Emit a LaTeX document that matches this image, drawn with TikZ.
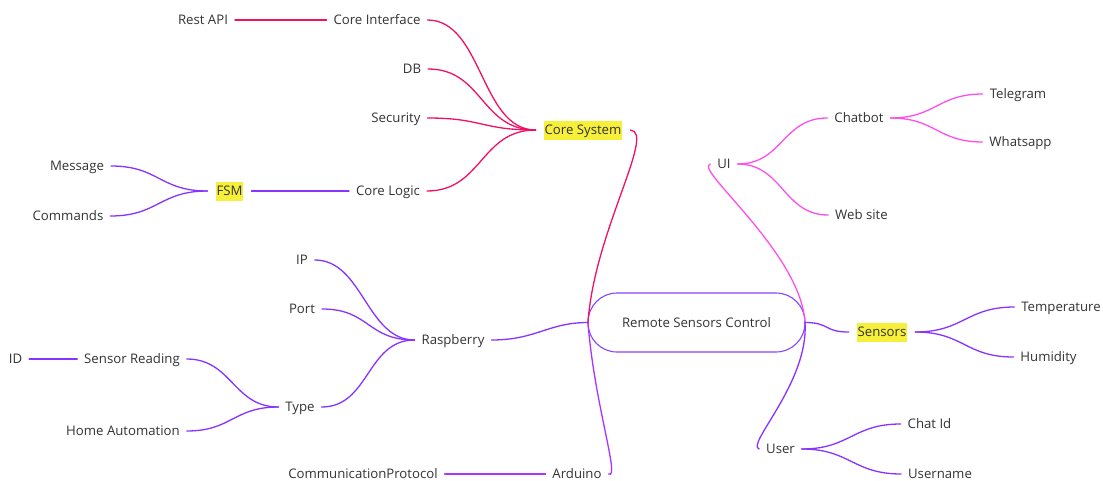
\documentclass[tikz,border=0pt]{standalone}
\usepackage{fontspec}
\setmainfont{Open Sans}
\definecolor{textgray}{HTML}{333333}
\definecolor{hlyellow}{HTML}{F7F03A}
\definecolor{corecol}{HTML}{EE1166}
\definecolor{uicol}{HTML}{FF4FEA}
\definecolor{purplecol}{HTML}{8833FF}
\definecolor{ardcol}{HTML}{AA33FF}
\definecolor{rootcol}{HTML}{8844FF}
\begin{document}
\begin{tikzpicture}[x=1pt,y=-1pt,
  lbl/.style={font=\fontsize{13.2}{16}\selectfont, text=textgray,
    inner xsep=1pt, inner ysep=3pt, text height=11pt, text depth=2pt,
    outer xsep=6pt, outer ysep=0pt},
  hl/.style={lbl, fill=hlyellow, outer xsep=8pt},
  rootbox/.style={lbl, draw=rootcol, line width=1.1pt, minimum width=217pt,
    minimum height=59pt, rounded corners=29pt, outer xsep=0pt},
  link/.style={line width=1.3pt, line cap=round},
  corel/.style={link, draw=corecol},
  uil/.style={link, draw=uicol},
  purl/.style={link, draw=purplecol},
  ardl/.style={link, draw=ardcol}]
\useasboundingbox (0,0) rectangle (1103,480);

% central node
\node[rootbox] (root) at (696.5,322.5) {Remote Sensors Control};

% core system branch
\node[hl]  (core)  at (583,130) {Core System};
\node[lbl] (ci)    at (377,20)  {Core Interface};
\node[lbl] (rest)  at (203,20)  {Rest API};
\node[lbl] (db)    at (412,69)  {DB};
\node[lbl] (sec)   at (396,118) {Security};
\node[lbl] (logic) at (388,191) {Core Logic};
\node[hl]  (fsm)   at (229.5,191) {FSM};
\node[lbl] (msg)   at (77,166)  {Message};
\node[lbl] (cmd)   at (68,216)  {Commands};

% raspberry branch
\node[lbl] (rasp)  at (453,340) {Raspberry};
\node[lbl] (ip)    at (302,260) {IP};
\node[lbl] (port)  at (302,309) {Port};
\node[lbl] (type)  at (300,407) {Type};
\node[lbl] (sread) at (132,359) {Sensor Reading};
\node[lbl] (id)    at (15.5,359) {ID};
\node[lbl] (home)  at (123,431) {Home Automation};

% arduino branch
\node[lbl] (ard)   at (577,474) {Arduino};
\node[lbl] (comm)  at (363,474) {CommunicationProtocol};

% ui branch
\node[lbl] (ui)    at (724,164) {UI};
\node[lbl] (chat)  at (859,118) {Chatbot};
\node[lbl] (tele)  at (1018,94) {Telegram};
\node[lbl] (whats) at (1020.5,142) {Whatsapp};
\node[lbl] (web)   at (861.5,215) {Web site};

% sensors branch
\node[hl]  (sens)  at (882,332) {Sensors};
\node[lbl] (temp)  at (1061,307) {Temperature};
\node[lbl] (hum)   at (1048.5,357) {Humidity};

% user branch
\node[lbl] (user)  at (780.5,449) {User};
\node[lbl] (cid)   at (929.5,424) {Chat Id};
\node[lbl] (uname) at (940,474) {Username};

% main branches leaving the central node
\draw[corel] (root.west) .. controls +(6,-90) and +(26,2) .. (core.east);
\draw[purl]  (root.west) .. controls +(-40,0) and +(45,0) .. (rasp.east);
\draw[ardl]  (root.west) .. controls +(6,80) and +(12,6) .. (ard.east);
\draw[uil]   (root.east) .. controls +(-4,-70) and +(-18,4) .. (ui.west);
\draw[purl]  (root.east) .. controls +(25,0) and +(-25,0) .. (sens.west);
\draw[purl]  (root.east) .. controls +(4,60) and +(-14,-4) .. (user.west);

% core system children
\foreach \c in {ci,db,sec,logic}
  \draw[corel] (core.west) .. controls +(-55,0) and +(55,0) .. (\c.east);
\draw[corel] (ci.west) -- (rest.east);
\draw[purl] (logic.west) -- (fsm.east);
\foreach \c in {msg,cmd}
  \draw[purl] (fsm.west) .. controls +(-48,0) and +(48,0) .. (\c.east);

% raspberry children
\foreach \c in {ip,port,type}
  \draw[purl] (rasp.west) .. controls +(-48,0) and +(48,0) .. (\c.east);
\foreach \c in {sread,home}
  \draw[purl] (type.west) .. controls +(-45,0) and +(45,0) .. (\c.east);
\draw[purl] (sread.west) -- (id.east);

% arduino child
\draw[ardl] (ard.west) -- (comm.east);

% ui children
\foreach \c in {chat,web}
  \draw[uil] (ui.east) .. controls +(45,0) and +(-45,0) .. (\c.west);
\foreach \c in {tele,whats}
  \draw[uil] (chat.east) .. controls +(45,0) and +(-45,0) .. (\c.west);

% sensors children
\foreach \c in {temp,hum}
  \draw[purl] (sens.east) .. controls +(48,0) and +(-48,0) .. (\c.west);

% user children
\foreach \c in {cid,uname}
  \draw[purl] (user.east) .. controls +(48,0) and +(-48,0) .. (\c.west);
\end{tikzpicture}
\end{document}
